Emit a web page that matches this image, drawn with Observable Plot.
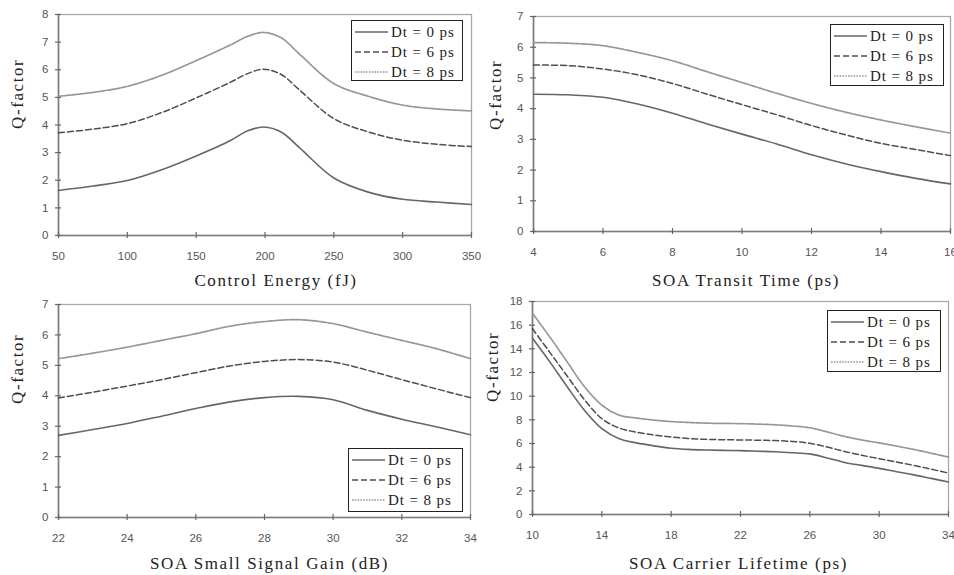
<!DOCTYPE html>
<html><head><meta charset="utf-8">
<script src="https://cdn.jsdelivr.net/npm/d3@7"></script>
<script src="https://cdn.jsdelivr.net/npm/@observablehq/plot@0.6"></script>
<style>
body{margin:0;background:#fff;}
#wrap{position:relative;width:954px;height:575px;overflow:hidden;background:#fff;}
.panel{position:absolute;}
.legend{position:absolute;border:1.5px solid #222;background:#fff;font-family:"Liberation Serif","DejaVu Serif","Times New Roman",serif;font-size:15px;letter-spacing:0.9px;color:#222;box-sizing:border-box;}
.legend .row{position:absolute;left:3px;height:20px;display:flex;align-items:center;white-space:nowrap;}
.legend .row svg{margin-right:3px;}
svg g[aria-label="text"] text{letter-spacing:1.6px;}
</style>
</head><body>
<div id="wrap"></div>
<script>
const series = ["Dt = 0 ps", "Dt = 6 ps", "Dt = 8 ps"];

// Panel 1: Control Energy (fJ)
const energyX   = [50, 75, 100, 125, 150, 175, 187, 199, 212, 225, 250, 275, 300, 325, 350];
const energyDt0 = [1.63, 1.79, 1.99, 2.38, 2.88, 3.44, 3.78, 3.93, 3.74, 3.18, 2.08, 1.57, 1.31, 1.21, 1.12];
const energyDt6 = [3.72, 3.85, 4.05, 4.45, 4.98, 5.55, 5.85, 6.02, 5.82, 5.27, 4.23, 3.75, 3.45, 3.30, 3.22];
const energyDt8 = [5.04, 5.18, 5.40, 5.80, 6.33, 6.90, 7.20, 7.35, 7.15, 6.57, 5.50, 5.04, 4.72, 4.58, 4.51];
const energyXTicks = [50, 100, 150, 200, 250, 300, 350];
const energyYTicks = [0, 1, 2, 3, 4, 5, 6, 7, 8];

// Panel 2: SOA Transit Time (ps)
const transitX   = [4, 5, 6, 7, 8, 9, 10, 11, 12, 13, 14, 15, 16];
const transitDt0 = [4.47, 4.45, 4.37, 4.15, 3.85, 3.50, 3.17, 2.85, 2.50, 2.20, 1.95, 1.73, 1.55];
const transitDt6 = [5.42, 5.40, 5.29, 5.10, 4.82, 4.47, 4.13, 3.80, 3.45, 3.14, 2.87, 2.67, 2.47];
const transitDt8 = [6.15, 6.13, 6.05, 5.83, 5.56, 5.20, 4.85, 4.50, 4.17, 3.88, 3.63, 3.41, 3.20];
const transitXTicks = [4, 6, 8, 10, 12, 14, 16];
const transitYTicks = [0, 1, 2, 3, 4, 5, 6, 7];

// Panel 3: SOA Small Signal Gain (dB)
const gainX   = [22, 23, 24, 25, 26, 27, 28, 29, 30, 31, 32, 33, 34];
const gainDt0 = [2.70, 2.89, 3.09, 3.33, 3.58, 3.80, 3.94, 3.98, 3.87, 3.52, 3.23, 2.98, 2.72];
const gainDt6 = [3.93, 4.12, 4.32, 4.53, 4.76, 4.98, 5.13, 5.19, 5.11, 4.84, 4.53, 4.23, 3.94];
const gainDt8 = [5.22, 5.40, 5.60, 5.82, 6.04, 6.29, 6.44, 6.50, 6.37, 6.09, 5.82, 5.55, 5.22];
const gainXTicks = [22, 24, 26, 28, 30, 32, 34];
const gainYTicks = [0, 1, 2, 3, 4, 5, 6, 7];

// Panel 4: SOA Carrier Lifetime (ps)
const lifeX   = [10, 11, 12, 13, 14, 15, 16, 17, 18, 19, 20, 21, 22, 23, 24, 25, 26, 27, 28, 29, 30, 31, 32, 33, 34];
const lifeDt0 = [14.9, 12.9, 10.8, 8.8, 7.25, 6.4, 6.05, 5.8, 5.6, 5.5, 5.45, 5.42, 5.4, 5.35, 5.3, 5.22, 5.12, 4.78, 4.4, 4.15, 3.9, 3.62, 3.35, 3.05, 2.75];
const lifeDt6 = [15.7, 13.7, 11.7, 9.7, 8.1, 7.3, 6.95, 6.72, 6.55, 6.43, 6.35, 6.32, 6.3, 6.28, 6.25, 6.17, 6.02, 5.7, 5.33, 5.0, 4.72, 4.43, 4.15, 3.83, 3.5];
const lifeDt8 = [17.0, 15.0, 12.9, 10.8, 9.25, 8.4, 8.15, 7.98, 7.85, 7.78, 7.72, 7.7, 7.68, 7.64, 7.58, 7.48, 7.33, 6.98, 6.6, 6.3, 6.05, 5.78, 5.5, 5.18, 4.85];
const lifeXTicks = [10, 14, 18, 22, 26, 30, 34];
const lifeYTicks = [0, 2, 4, 6, 8, 10, 12, 14, 16, 18];

const yTitle = "Q-factor";

const styles = [
  {stroke: "#666666", strokeWidth: 1.6, strokeDasharray: null},
  {stroke: "#4e4e4e", strokeWidth: 1.5, strokeDasharray: "6,3"},
  {stroke: "#969696", strokeWidth: 1.7, strokeDasharray: "1.6,1.2"}
];

const panels = [
  {left: 0, top: 0, width: 477, height: 290, mL: 58, mT: 14, mR: 6, mB: 55,
   x: energyX, ys: [energyDt0, energyDt6, energyDt8], xTicks: energyXTicks, yTicks: energyYTicks,
   xTitle: "Control Energy (fJ)", tdx: 11, tdy: 45, qdx: -41, qdy: 4,
   legend: {left: 351, top: 20, width: 112, height: 61}},
  {left: 477, top: 0, width: 477, height: 290, mL: 56, mT: 16, mR: 4, mB: 59,
   x: transitX, ys: [transitDt0, transitDt6, transitDt8], xTicks: transitXTicks, yTicks: transitYTicks,
   xTitle: "SOA Transit Time (ps)", tdx: 4, tdy: 49, qdx: -38, qdy: 6,
   legend: {left: 830, top: 24, width: 114, height: 62}},
  {left: 0, top: 290, width: 477, height: 285, mL: 58, mT: 14, mR: 7, mB: 58,
   x: gainX, ys: [gainDt0, gainDt6, gainDt8], xTicks: gainXTicks, yTicks: gainYTicks,
   xTitle: "SOA Small Signal Gain (dB)", tdx: 5, tdy: 46, qdx: -41, qdy: -7,
   legend: {left: 348, top: 448, width: 115, height: 64}},
  {left: 477, top: 290, width: 477, height: 285, mL: 55, mT: 11, mR: 6, mB: 61,
   x: lifeX, ys: [lifeDt0, lifeDt6, lifeDt8], xTicks: lifeXTicks, yTicks: lifeYTicks,
   xTitle: "SOA Carrier Lifetime (ps)", tdx: -2, tdy: 49, qdx: -40, qdy: -6,
   legend: {left: 827, top: 310, width: 114, height: 62}}
];

const tickFont = '"Liberation Sans Narrow", "Arial Narrow", "Liberation Sans", sans-serif';
const serif = '"Liberation Serif", "DejaVu Serif", "Times New Roman", serif';
const wrap = document.getElementById("wrap");

for (const p of panels) {
  const xMin = p.xTicks[0], xMax = p.xTicks[p.xTicks.length - 1];
  const yMin = p.yTicks[0], yMax = p.yTicks[p.yTicks.length - 1];
  const lineMarks = p.ys.map((ys, k) => {
    const rows = p.x.map((x, i) => ({x, y: ys[i], s: series[k]}));
    return Plot.line(rows, {x: "x", y: "y", curve: "catmull-rom", ...styles[k]});
  });
  const chart = Plot.plot({
    width: p.width, height: p.height,
    marginLeft: p.mL, marginTop: p.mT, marginRight: p.mR, marginBottom: p.mB,
    x: {domain: [xMin, xMax]},
    y: {domain: [yMin, yMax]},
    style: {background: "transparent", overflow: "visible"},
    marks: [
      Plot.frame({stroke: "#a8a8a8", strokeWidth: 1.3}),
      Plot.axisX(p.xTicks, {tickSize: 0, tickPadding: 16, fontFamily: tickFont, fontSize: 11.5, color: "#555", label: null}),
      Plot.axisY(p.yTicks, {tickSize: 0, tickPadding: 10, fontFamily: tickFont, fontSize: 11.5, color: "#555", label: null}),
      Plot.ruleY([yMin], {stroke: "#7c7c7c", strokeWidth: 1.6}),
      Plot.ruleX([xMin], {stroke: "#7c7c7c", strokeWidth: 1.6}),
      Plot.ruleX(p.xTicks, {x: d => d, y1: yMin, y2: yMin, insetTop: -3, insetBottom: -3, stroke: "#666", strokeWidth: 1.2}),
      Plot.ruleY(p.yTicks, {y: d => d, x1: xMin, x2: xMin, insetLeft: -3, insetRight: -3, stroke: "#666", strokeWidth: 1.2}),
      ...lineMarks,
      Plot.text([p.xTitle], {text: d => d, frameAnchor: "bottom", dx: p.tdx, dy: p.tdy, lineAnchor: "middle", fontFamily: serif, fontSize: 17, fill: "#222"}),
      Plot.text([yTitle], {text: d => d, frameAnchor: "left", rotate: -90, dx: p.qdx, dy: p.qdy, lineAnchor: "middle", fontFamily: serif, fontSize: 17, fill: "#222"})
    ]
  });
  const div = document.createElement("div");
  div.className = "panel";
  div.style.left = p.left + "px";
  div.style.top = p.top + "px";
  div.appendChild(chart);
  wrap.appendChild(div);

  const lg = document.createElement("div");
  lg.className = "legend";
  Object.assign(lg.style, {left: p.legend.left + "px", top: p.legend.top + "px", width: p.legend.width + "px", height: p.legend.height + "px"});
  series.forEach((name, k) => {
    const row = document.createElement("div");
    row.className = "row";
    row.style.top = (1 + k * 20) + "px";
    const st = styles[k];
    row.innerHTML = `<svg width="33" height="6"><line x1="0" y1="3" x2="33" y2="3" stroke="${st.stroke}" stroke-width="${st.strokeWidth}" ${st.strokeDasharray ? `stroke-dasharray="${st.strokeDasharray}"` : ""}/></svg><span>${name}</span>`;
    lg.appendChild(row);
  });
  wrap.appendChild(lg);
}
</script>
</body></html>
